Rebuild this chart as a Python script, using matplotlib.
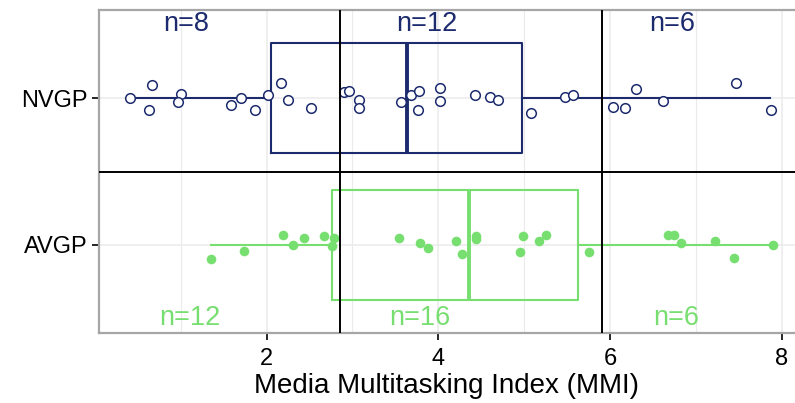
import matplotlib
matplotlib.use("Agg")
import matplotlib.pyplot as plt

plt.rcParams['font.family'] = ['Liberation Sans', 'DejaVu Sans']

# Media multitasking scores per group, with the vertical jitter used for plotting
nvgp_mmi = [0.41, 0.66, 0.63, 1.00, 0.97, 1.59, 1.70, 1.86, 2.01, 2.17, 2.25, 2.52,
            2.90, 2.96, 3.08, 3.08, 3.57, 3.68, 3.78, 3.76, 4.02, 4.02,
            4.43, 4.60, 4.69, 5.08, 5.48, 5.57,
            6.04, 6.18, 6.30, 6.62, 7.47, 7.87]
nvgp_jit = [0.00, 0.09, -0.08, 0.03, -0.03, -0.05, 0.00, -0.08, 0.02, 0.10, -0.01, -0.07,
            0.04, 0.05, -0.01, -0.07, -0.03, 0.02, 0.05, -0.08, 0.07, -0.02,
            0.02, 0.01, -0.01, -0.10, 0.01, 0.02,
            -0.06, -0.07, 0.06, -0.02, 0.10, -0.08]

avgp_mmi = [1.35, 1.74, 2.19, 2.31, 2.44, 2.67, 2.78, 2.76,
            3.54, 3.79, 3.88, 4.21, 4.28, 4.44, 4.44, 4.99, 4.95, 5.17, 5.26, 5.75,
            6.68, 6.74, 6.83, 7.22, 7.44, 7.90]
avgp_jit = [-0.095, -0.04, 0.07, 0.00, 0.05, 0.06, 0.05, -0.01,
            0.05, 0.01, -0.02, 0.03, -0.06, 0.06, 0.04, 0.06, -0.05, 0.03, 0.07, -0.05,
            0.07, 0.07, 0.01, 0.03, -0.09, 0.00]

# box summaries: whisker low, q1, median, q3, whisker high
nvgp_box = [0.41, 2.05, 3.63, 4.98, 7.86]
avgp_box = [1.35, 2.76, 4.36, 5.63, 7.90]

cutoffs = [2.86, 5.91]
groups = ['AVGP', 'NVGP']
nvgp_counts = ['n=8', 'n=12', 'n=6']
avgp_counts = ['n=12', 'n=16', 'n=6']
nvgp_count_x = [1.06, 3.87, 6.72]
avgp_count_x = [1.11, 3.79, 6.77]

navy = '#1c2a6e'
green = '#77de70'

fig = plt.figure(figsize=(7.95, 4.03), dpi=100)
ax = fig.add_axes([99 / 795, 70 / 403, 696 / 795, 323 / 403])

# light grid at every integer, drawn under everything
for g in range(0, 9):
    ax.axvline(g, color='#ebebeb', lw=0.8 if g % 2 else 1.1, zorder=0)
for yy in (1, 2):
    ax.axhline(yy, color='#ebebeb', lw=1.1, zorder=0)


def draw_box(stats, ypos, color):
    lo, q1, med, q3, hi = stats
    bstats = [dict(whislo=lo, q1=q1, med=med, q3=q3, whishi=hi, fliers=[])]
    ax.bxp(bstats, positions=[ypos], widths=0.75, vert=False, showcaps=False,
           showfliers=False, manage_ticks=False,
           boxprops=dict(color=color, lw=1.5),
           whiskerprops=dict(color=color, lw=1.5),
           medianprops=dict(color=color, lw=2.8))


draw_box(nvgp_box, 2, navy)
draw_box(avgp_box, 1, green)

ax.scatter(nvgp_mmi, [2 + j for j in nvgp_jit], s=48, facecolor='white',
           edgecolor=navy, linewidth=1.1, zorder=3)
ax.scatter(avgp_mmi, [1 + j for j in avgp_jit], s=48, color=green,
           linewidth=0, zorder=3)

for c in cutoffs:
    ax.axvline(c, color='black', lw=1.4, zorder=4)
ax.axhline(1.5, color='black', lw=1.4, zorder=4)

for x, t in zip(nvgp_count_x, nvgp_counts):
    ax.text(x, 2.505, t, color=navy, fontsize=19.5, ha='center', va='center')
for x, t in zip(avgp_count_x, avgp_counts):
    ax.text(x, 0.505, t, color=green, fontsize=19.5, ha='center', va='center')

ax.set_xlim(0.047, 8.155)
ax.set_ylim(0.4, 2.6)
ax.set_xticks([2, 4, 6, 8])
ax.set_yticks([1, 2])
ax.set_yticklabels(groups)
ax.tick_params(labelsize=17, length=5, width=1.2, color='black', labelcolor='black')
ax.tick_params(axis='x', pad=6)
ax.set_xlabel('Media Multitasking Index (MMI)', fontsize=20, labelpad=2)

for side in ('top', 'bottom', 'left'):
    ax.spines[side].set_color('#a6a6a6')
    ax.spines[side].set_linewidth(1.6)
ax.spines['right'].set_visible(False)

fig.savefig('out.png', dpi=100)
